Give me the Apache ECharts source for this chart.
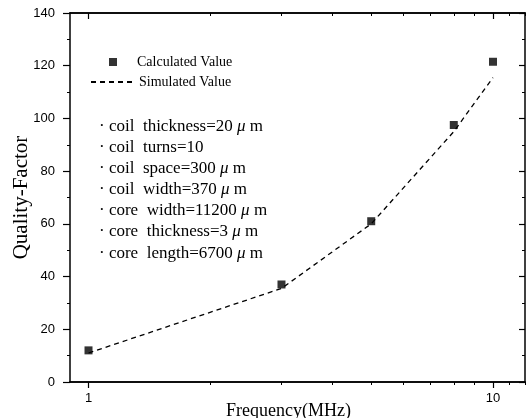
<!DOCTYPE html>
<html>
<head>
<meta charset="utf-8">
<script src="https://cdn.jsdelivr.net/npm/echarts@6/dist/echarts.min.js"></script>
<style>html,body{margin:0;padding:0;background:#fff}#c{width:528px;height:418px}</style>
</head>
<body>
<div id="c"></div>
<script>
var freqs = [1, 3, 5, 8, 10];
var calculated = [12, 37, 61, 97.5, 121.5];
var simulated = [11, 35.5, 60, 95, 115.5];
var majorTicks = [1, 10];
var minorTicks = [2, 3, 4, 5, 6, 7, 8, 9, 11, 12];
var paramLines = [
  'coil  thickness=20 ', 'coil  turns=10', 'coil  space=300 ', 'coil  width=370 ',
  'core  width=11200 ', 'core  thickness=3 ', 'core  length=6700 '
];
var paramHasUnit = [true, false, true, true, true, true, true];

var serif = '"Liberation Serif", "DejaVu Serif", serif';
var sans = '"Liberation Sans", Arial, sans-serif';
var chart = echarts.init(document.getElementById('c'));

var grid = {left: 70, right: 3, top: 13, bottom: 36, containLabel: false, outerBoundsMode: 'none'};
function xAx(extra) {
  var base = {
    type: 'log', min: 0.9, max: 12, gridIndex: 0,
    axisLine: {show: true, onZero: false, lineStyle: {color: '#000', width: 1.5}},
    splitLine: {show: false}, minorTick: {show: false}
  };
  return Object.assign(base, extra);
}
var xAxes = [
  xAx({position: 'bottom', name: 'Frequency(MHz)', nameLocation: 'middle', nameGap: 20, nameMoveOverlap: false,
       nameTextStyle: {fontFamily: serif, fontSize: 18, color: '#000', padding: [0, 18, 0, 0]},
       axisTick: {show: true, inside: false, length: 6, customValues: majorTicks, lineStyle: {color: '#000', width: 1.2}},
       axisLabel: {show: true, customValues: majorTicks, margin: 10, fontFamily: sans, fontSize: 13, color: '#000'}}),
  xAx({position: 'bottom', axisTick: {show: true, inside: false, length: 3, customValues: minorTicks, lineStyle: {color: '#000', width: 1}},
       axisLabel: {show: false}}),
  xAx({position: 'top', axisTick: {show: true, inside: true, length: 6, customValues: majorTicks, lineStyle: {color: '#000', width: 1.2}},
       axisLabel: {show: false}}),
  xAx({position: 'top', axisTick: {show: true, inside: true, length: 3, customValues: minorTicks, lineStyle: {color: '#000', width: 1}},
       axisLabel: {show: false}})
];
function yAx(extra) {
  var base = {
    type: 'value', min: 0, max: 140, interval: 20,
    axisLine: {show: true, onZero: false, lineStyle: {color: '#000', width: 1.5}},
    splitLine: {show: false},
    minorTick: {show: true, splitNumber: 2, length: 3, lineStyle: {color: '#000', width: 1}}
  };
  return Object.assign(base, extra);
}
var yAxes = [
  yAx({position: 'left', name: 'Quality-Factor', nameLocation: 'middle', nameGap: 38, nameMoveOverlap: false,
       nameTextStyle: {fontFamily: serif, fontSize: 21, color: '#000'},
       axisTick: {show: true, inside: false, length: 7, lineStyle: {color: '#000', width: 1.2}},
       axisLabel: {show: true, margin: 15, fontFamily: sans, fontSize: 13, color: '#000'}}),
  yAx({position: 'right',
       axisTick: {show: true, inside: true, length: 6, lineStyle: {color: '#000', width: 1.2}},
       axisLabel: {show: false}})
];

var graphics = [];
paramLines.forEach(function (t, i) {
  var y = 128 + i * 21.1;
  graphics.push({type: 'text', left: 99, top: y - 10, style: {
    text: '· ' + t + (paramHasUnit[i] ? '{mu|μ} m' : ''),
    font: '17px ' + serif, fill: '#000',
    rich: {mu: {fontFamily: serif, fontSize: 17, fontStyle: 'italic', fill: '#000'}}
  }});
});

chart.setOption({
  animation: false,
  backgroundColor: '#fff',
  grid: grid,
  xAxis: xAxes,
  yAxis: yAxes,
  legend: [
    {data: ['Calculated Value'], left: 104, top: 50, orient: 'vertical', itemWidth: 8, itemHeight: 8, itemGap: 0,
     icon: 'rect', textStyle: {fontFamily: serif, fontSize: 14, color: '#000', padding: [0, 0, 0, 15]}},
    {data: ['Simulated Value'], left: 85, top: 70, orient: 'vertical', itemWidth: 43, itemHeight: 10, itemGap: 0,
     itemStyle: {opacity: 0},
     textStyle: {fontFamily: serif, fontSize: 14, color: '#000', padding: [0, 0, 0, 0]}}
  ],
  graphic: graphics,
  series: [
    {name: 'Simulated Value', type: 'line', xAxisIndex: 0, yAxisIndex: 0,
     data: freqs.map(function (f, i) { return [f, simulated[i]]; }),
     symbol: 'none', smooth: false, itemStyle: {color: '#000'},
     lineStyle: {color: '#000', width: 1.3, type: [5, 4]}, z: 2},
    {name: 'Calculated Value', type: 'scatter', xAxisIndex: 0, yAxisIndex: 0,
     data: freqs.map(function (f, i) { return [f, calculated[i]]; }),
     symbol: 'rect', symbolSize: 8, itemStyle: {color: '#000'}, z: 3}
  ]
});
</script>
</body>
</html>
